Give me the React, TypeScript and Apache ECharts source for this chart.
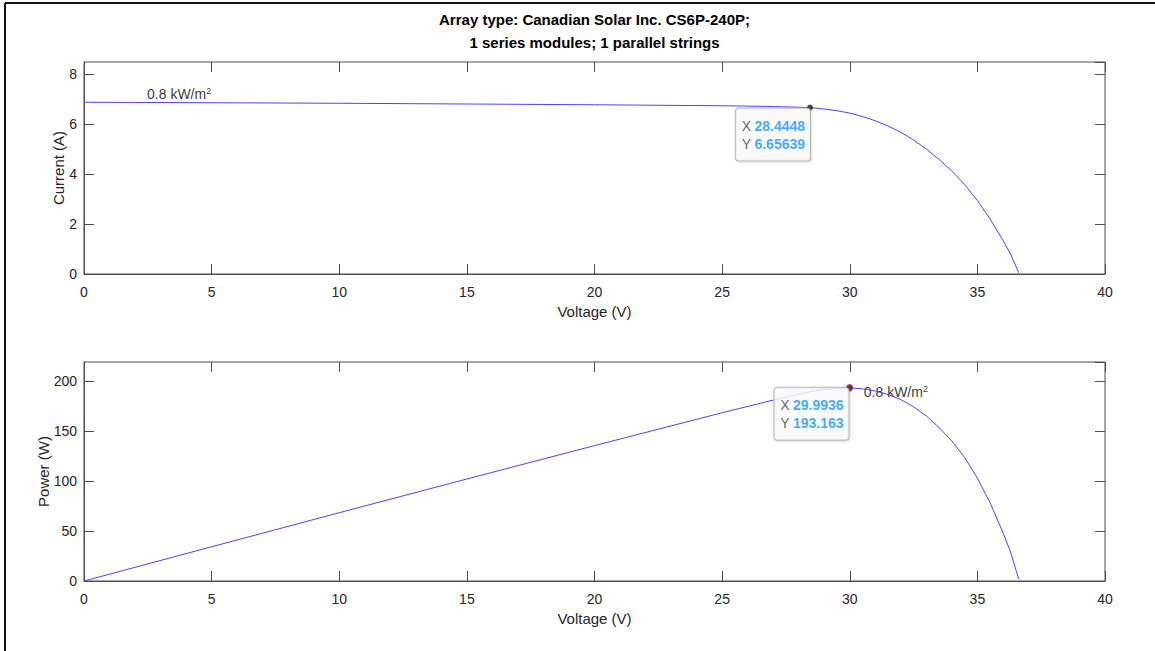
import React, { useEffect, useRef } from 'react';
import * as echarts from 'echarts';

// ---- data ----
const voltage = [0, 5, 10, 15, 20, 25, 27, 28.4448, 29, 29.5, 29.9936, 30.5, 31, 31.5, 32, 32.5, 33, 33.5, 34, 34.5, 35, 35.5, 36, 36.3, 36.62];
const current = [6.87, 6.85, 6.83, 6.8, 6.77, 6.73, 6.7, 6.656, 6.6, 6.53, 6.44, 6.3, 6.13, 5.92, 5.67, 5.36, 5.0, 4.58, 4.12, 3.58, 2.94, 2.2, 1.35, 0.8, 0.05];
const power = [0, 34.25, 68.3, 102, 135.4, 168.25, 180.9, 189.33, 191.4, 192.6, 193.163, 192.15, 190.0, 186.5, 181.4, 174.2, 165, 153.4, 140.1, 123.5, 102.9, 78.1, 48.6, 29, 1.8];

const titleLines = ['Array type: Canadian Solar Inc. CS6P-240P;', '1 series modules; 1 parallel strings'];
const xAxisName = 'Voltage (V)';
const yNameTop = 'Current (A)';
const yNameBottom = 'Power (W)';
const irradianceText = '0.8 kW/m{s|2}';

const tipIV = [28.4448, 6.65639];
const tipPV = [29.9936, 193.163];
const annotIV = [2.47, 7.2];
const annotPV = [30.55, 189];

const FONT = '"Liberation Sans", Arial, Helvetica, sans-serif';
const AX = '#4d4d4d';
const TXT = '#262626';
const LINE = '#4646ff';

function tipLabel(x: number, y: number) {
  return {
    show: true,
    position: [3, 4],
    align: 'right',
    verticalAlign: 'top',
    formatter: `{k|X} {v|${x}}\n{k|Y} {v|${y}}`,
    backgroundColor: '#fcfcfc',
    borderColor: '#a6a6a6',
    borderWidth: 1,
    borderRadius: 3,
    padding: [8, 5, 8, 6],
    shadowColor: 'rgba(0,0,0,0.15)',
    shadowBlur: 2,
    shadowOffsetX: 1,
    shadowOffsetY: 1,
    rich: {
      k: { color: '#404040', fontSize: 14, fontFamily: FONT, lineHeight: 18 },
      v: { color: '#1496ff', fontSize: 14, fontWeight: 'bold', fontFamily: FONT, lineHeight: 18 },
    },
  };
}

function annotLabel() {
  return {
    show: true,
    position: [0, 0],
    align: 'left',
    verticalAlign: 'middle',
    formatter: irradianceText,
    color: '#000',
    fontSize: 14,
    fontFamily: FONT,
    lineHeight: 16,
    rich: {
      s: { fontSize: 9, fontFamily: FONT, color: '#000', verticalAlign: 'top', lineHeight: 16 },
    },
  };
}

function xAxes(gridIndex: number) {
  return [
    {
      gridIndex,
      type: 'value',
      min: 0,
      max: 40,
      interval: 5,
      position: 'bottom',
      axisLine: { show: true, onZero: false, lineStyle: { color: AX, width: 1 } },
      axisTick: { show: true, inside: true, length: 10, lineStyle: { color: AX } },
      axisLabel: { margin: 11, color: TXT, fontSize: 14, fontFamily: FONT },
      splitLine: { show: false },
      name: xAxisName,
      nameLocation: 'middle',
      nameGap: 30,
      nameMoveOverlap: false,
      nameTextStyle: { color: TXT, fontSize: 15, fontFamily: FONT },
    },
    {
      gridIndex,
      type: 'value',
      min: 0,
      max: 40,
      interval: 5,
      position: 'top',
      axisLine: { show: false, onZero: false },
      axisTick: { show: true, inside: true, length: 10, lineStyle: { color: AX } },
      axisLabel: { show: false },
      splitLine: { show: false },
    },
  ];
}

function yAxes(gridIndex: number, max: number, interval: number, name: string, nameGap: number) {
  return [
    {
      gridIndex,
      type: 'value',
      min: 0,
      max,
      interval,
      position: 'left',
      axisLine: { show: true, onZero: false, lineStyle: { color: AX, width: 1 } },
      axisTick: { show: true, inside: true, length: 10, lineStyle: { color: AX } },
      axisLabel: { margin: 7, color: TXT, fontSize: 14, fontFamily: FONT, showMaxLabel: false },
      splitLine: { show: false },
      name,
      nameLocation: 'middle',
      nameGap,
      nameMoveOverlap: false,
      nameTextStyle: { color: TXT, fontSize: 15, fontFamily: FONT },
    },
    {
      gridIndex,
      type: 'value',
      min: 0,
      max,
      interval,
      position: 'right',
      axisLine: { show: false, onZero: false },
      axisTick: { show: true, inside: true, length: 10, lineStyle: { color: AX } },
      axisLabel: { show: false },
      splitLine: { show: false },
    },
  ];
}

export default function App() {
  const ref = useRef<HTMLDivElement>(null);
  useEffect(() => {
    if (!ref.current) return;
    const chart = echarts.init(ref.current, undefined, { renderer: 'svg' });
    const ivData = voltage.map((v, i) => [v, current[i]]);
    const pvData = voltage.map((v, i) => [v, power[i]]);
    chart.setOption({
      animation: false,
      backgroundColor: '#ffffff',
      grid: [
        { left: 84, top: 62, width: 1021, height: 212, show: true, borderColor: AX, borderWidth: 1, backgroundColor: 'transparent' },
        { left: 84, top: 362, width: 1021, height: 219, show: true, borderColor: AX, borderWidth: 1, backgroundColor: 'transparent' },
      ],
      xAxis: [...xAxes(0), ...xAxes(1)],
      yAxis: [...yAxes(0, 8.48, 2, yNameTop, 18), ...yAxes(1, 219, 50, yNameBottom, 33)],
      graphic: [
        { type: 'line', shape: { x1: 5, y1: 3, x2: 1155, y2: 3 }, style: { stroke: '#111', lineWidth: 2 } },
        { type: 'line', shape: { x1: 5, y1: 3, x2: 5, y2: 651 }, style: { stroke: '#111', lineWidth: 2 } },
        {
          type: 'text', x: 594.5, y: 19,
          style: { text: titleLines[0], font: `bold 15px ${FONT}`, fill: '#000', textAlign: 'center', textVerticalAlign: 'middle' },
        },
        {
          type: 'text', x: 594.5, y: 42,
          style: { text: titleLines[1], font: `bold 15px ${FONT}`, fill: '#000', textAlign: 'center', textVerticalAlign: 'middle' },
        },
      ],
      series: [
        {
          type: 'line', xAxisIndex: 0, yAxisIndex: 0, data: ivData, showSymbol: false,
          lineStyle: { color: LINE, width: 1 },
        },
        {
          type: 'line', xAxisIndex: 2, yAxisIndex: 2, data: pvData, showSymbol: false,
          lineStyle: { color: LINE, width: 1 },
        },
        {
          type: 'scatter', xAxisIndex: 0, yAxisIndex: 0, data: [tipIV], symbol: 'circle', symbolSize: 6, z: 10,
          itemStyle: { color: '#1a1a1a' },
          label: tipLabel(tipIV[0], tipIV[1]),
        },
        {
          type: 'scatter', xAxisIndex: 2, yAxisIndex: 2, data: [tipPV], symbol: 'circle', symbolSize: 7, z: 10,
          itemStyle: { color: '#1a1a1a', borderColor: '#ff4fa8', borderWidth: 1 },
          label: tipLabel(tipPV[0], tipPV[1]),
        },
        {
          type: 'scatter', xAxisIndex: 0, yAxisIndex: 0, data: [annotIV], symbolSize: 0, silent: true,
          label: annotLabel(),
        },
        {
          type: 'scatter', xAxisIndex: 2, yAxisIndex: 2, data: [annotPV], symbolSize: 0, silent: true,
          label: annotLabel(),
        },
      ],
    });
    return () => chart.dispose();
  }, []);
  return <div ref={ref} style={{ position: 'fixed', left: 0, top: 0, width: 1155, height: 651 }} />;
}
